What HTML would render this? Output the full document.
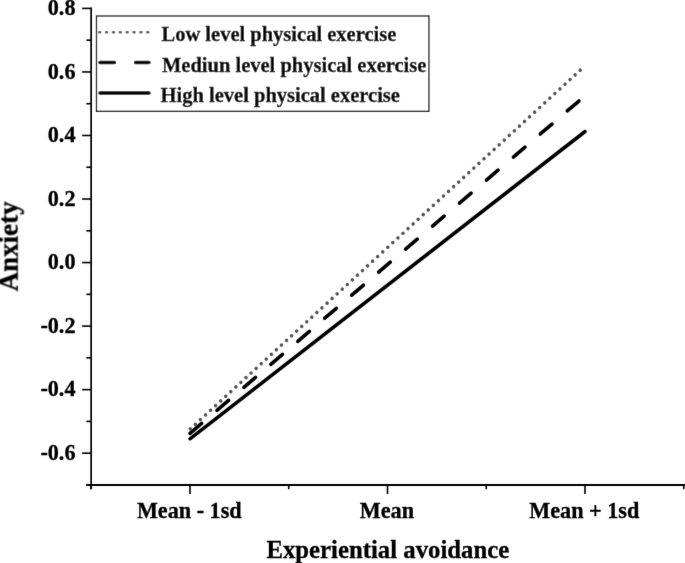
<!DOCTYPE html>
<html><head><meta charset="utf-8"><style>
html,body{margin:0;padding:0;background:#fff;width:685px;height:563px;overflow:hidden}
svg{display:block;filter:grayscale(1)}
text{font-family:"Liberation Serif",serif;font-weight:bold;fill:#000;stroke:#000;stroke-width:0.3px}
.tl{font-size:22.2px}
.xl{font-size:22.2px}
.xt{font-size:24.75px}
.yt{font-size:27px}
.lg{font-size:20.5px}
</style></head><body>
<svg width="685" height="563" viewBox="0 0 685 563">
<defs><filter id="bl" x="-5%" y="-5%" width="110%" height="110%" filterUnits="userSpaceOnUse"><feConvolveMatrix order="3" kernelMatrix="0.00524 0.06192 0.00524 0.06192 0.73137 0.06192 0.00524 0.06192 0.00524" preserveAlpha="false" edgeMode="none"/></filter></defs>
<g filter="url(#bl)">
<line x1="91.15" y1="7.6000000000000005" x2="91.15" y2="489.2" stroke="#000" stroke-width="1.7"/>
<line x1="86.35000000000001" y1="485.0" x2="686" y2="485.0" stroke="#000" stroke-width="1.8"/>
<line x1="82.15" y1="8.40" x2="91.15" y2="8.40" stroke="#000" stroke-width="1.6"/>
<text x="75.5" y="15.00" text-anchor="end" class="tl">0.8</text>
<line x1="86.35000000000001" y1="40.17" x2="91.15" y2="40.17" stroke="#000" stroke-width="1.6"/>
<line x1="82.15" y1="71.94" x2="91.15" y2="71.94" stroke="#000" stroke-width="1.6"/>
<text x="75.5" y="78.54" text-anchor="end" class="tl">0.6</text>
<line x1="86.35000000000001" y1="103.71" x2="91.15" y2="103.71" stroke="#000" stroke-width="1.6"/>
<line x1="82.15" y1="135.48" x2="91.15" y2="135.48" stroke="#000" stroke-width="1.6"/>
<text x="75.5" y="142.08" text-anchor="end" class="tl">0.4</text>
<line x1="86.35000000000001" y1="167.25" x2="91.15" y2="167.25" stroke="#000" stroke-width="1.6"/>
<line x1="82.15" y1="199.02" x2="91.15" y2="199.02" stroke="#000" stroke-width="1.6"/>
<text x="75.5" y="205.62" text-anchor="end" class="tl">0.2</text>
<line x1="86.35000000000001" y1="230.79" x2="91.15" y2="230.79" stroke="#000" stroke-width="1.6"/>
<line x1="82.15" y1="262.56" x2="91.15" y2="262.56" stroke="#000" stroke-width="1.6"/>
<text x="75.5" y="269.16" text-anchor="end" class="tl">0.0</text>
<line x1="86.35000000000001" y1="294.33" x2="91.15" y2="294.33" stroke="#000" stroke-width="1.6"/>
<line x1="82.15" y1="326.10" x2="91.15" y2="326.10" stroke="#000" stroke-width="1.6"/>
<text x="75.5" y="332.70" text-anchor="end" class="tl">-0.2</text>
<line x1="86.35000000000001" y1="357.87" x2="91.15" y2="357.87" stroke="#000" stroke-width="1.6"/>
<line x1="82.15" y1="389.64" x2="91.15" y2="389.64" stroke="#000" stroke-width="1.6"/>
<text x="75.5" y="396.24" text-anchor="end" class="tl">-0.4</text>
<line x1="86.35000000000001" y1="421.41" x2="91.15" y2="421.41" stroke="#000" stroke-width="1.6"/>
<line x1="82.15" y1="453.18" x2="91.15" y2="453.18" stroke="#000" stroke-width="1.6"/>
<text x="75.5" y="459.78" text-anchor="end" class="tl">-0.6</text>
<line x1="86.35000000000001" y1="484.95" x2="91.15" y2="484.95" stroke="#000" stroke-width="1.6"/>
<line x1="190.0" y1="485.0" x2="190.0" y2="494.0" stroke="#000" stroke-width="1.6"/>
<line x1="387.5" y1="485.0" x2="387.5" y2="494.0" stroke="#000" stroke-width="1.6"/>
<line x1="585.0" y1="485.0" x2="585.0" y2="494.0" stroke="#000" stroke-width="1.6"/>
<line x1="91.0" y1="485.0" x2="91.0" y2="489.2" stroke="#000" stroke-width="1.6"/>
<line x1="288.75" y1="485.0" x2="288.75" y2="489.2" stroke="#000" stroke-width="1.6"/>
<line x1="486.25" y1="485.0" x2="486.25" y2="489.2" stroke="#000" stroke-width="1.6"/>
<line x1="683.75" y1="485.0" x2="683.75" y2="489.2" stroke="#000" stroke-width="1.6"/>
<text x="189.3" y="518.3" text-anchor="middle" class="xl">Mean - 1sd</text>
<text x="386.9" y="518.3" text-anchor="middle" class="xl">Mean</text>
<text x="584.3" y="518.3" text-anchor="middle" class="xl">Mean + 1sd</text>
<text x="387.8" y="558.4" text-anchor="middle" class="xt">Experiential avoidance</text>
<text transform="translate(17.6,246.4) rotate(-90)" x="0" y="0" text-anchor="middle" class="yt">Anxiety</text>
<line x1="190" y1="438.8" x2="585.1" y2="131.5" stroke="#000" stroke-width="3.5" stroke-linecap="round"/>
<line x1="190" y1="433.4" x2="585" y2="95.8" stroke="#000" stroke-width="3.6" stroke-linecap="round" stroke-dasharray="15.3 20.15"/>
<line x1="190.3" y1="428.9" x2="585" y2="65.8" stroke="#555" stroke-width="3.5" stroke-linecap="round" stroke-dasharray="0.01 6.87"/>
<rect x="96.5" y="16" width="332.4" height="95.3" fill="#fff" stroke="#111" stroke-width="1.25"/>
<line x1="99.2" y1="32.3" x2="152" y2="32.3" stroke="#606060" stroke-width="2.6" stroke-linecap="round" stroke-dasharray="1 5.87"/>
<line x1="100" y1="62.55" x2="149" y2="62.55" stroke="#000" stroke-width="3.4" stroke-linecap="round" stroke-dasharray="14.5 21.1"/>
<line x1="100" y1="93.05" x2="149" y2="93.05" stroke="#000" stroke-width="3.4" stroke-linecap="round"/>
<text x="161.5" y="40.6" class="lg">Low level physical exercise</text>
<text x="162" y="71.6" class="lg">Mediun level physical exercise</text>
<text x="160.6" y="101.5" class="lg">High level physical exercise</text>
</g>
</svg>
</body></html>
